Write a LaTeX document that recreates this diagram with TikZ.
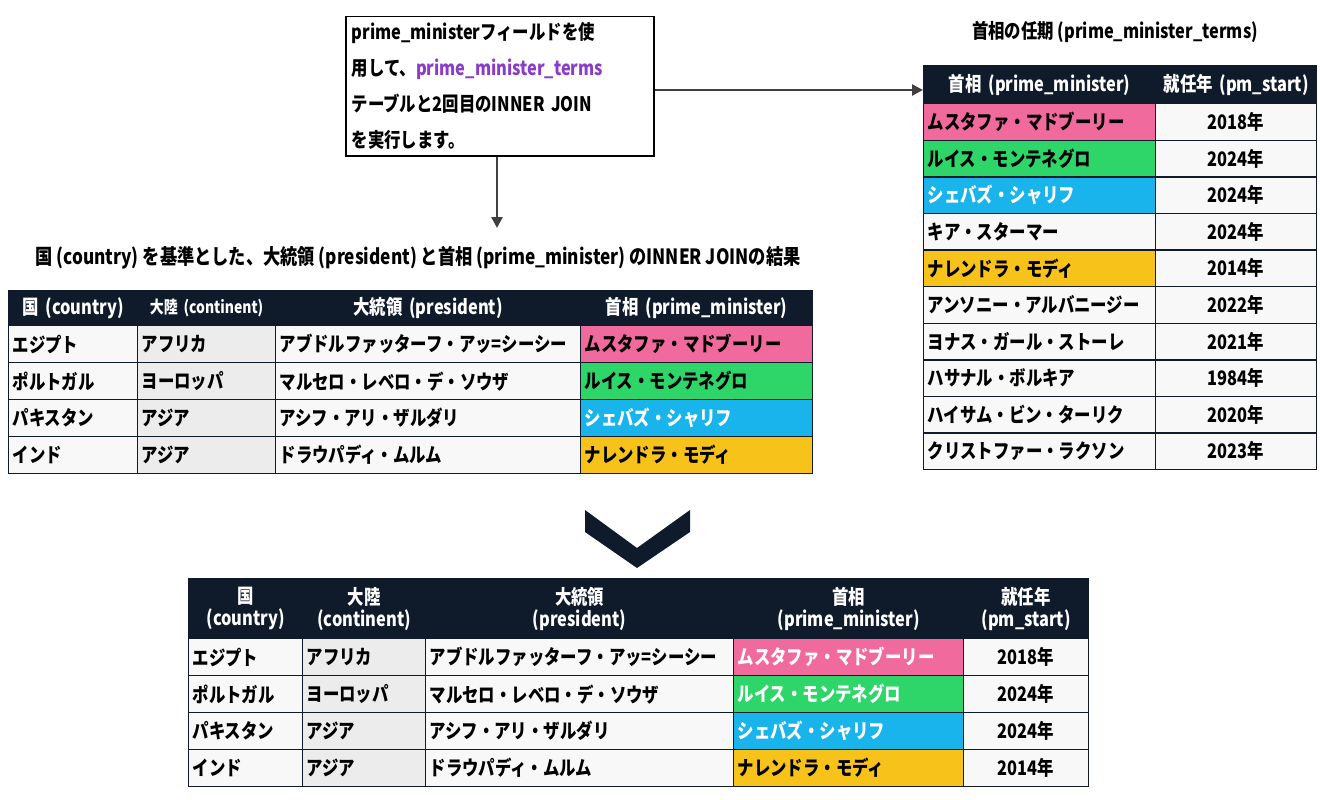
\documentclass[tikz,border=0pt]{standalone}
\usepackage{fontspec}
\setmainfont{Noto Sans CJK JP}[FakeStretch=0.82]
\usetikzlibrary{arrows.meta}
\definecolor{navy}{HTML}{0F1B2A}
\definecolor{pinkc}{HTML}{F06A9E}
\definecolor{greenc}{HTML}{2ED66A}
\definecolor{bluec}{HTML}{1AB4EC}
\definecolor{yellowc}{HTML}{F7C21A}
\definecolor{grayc}{HTML}{ECECEC}
\definecolor{whitec}{HTML}{F8F8F8}
\definecolor{purplec}{HTML}{8A3CC8}
\tikzset{
  cell/.style={draw=navy,line width=1.3pt,inner sep=4pt,fill=whitec,
    font=\fontsize{20}{22}\selectfont\bfseries,align=left},
  head/.style={fill=navy,text=white,align=center},
  mid/.style={align=center},
  gry/.style={fill=grayc},
  conn/.style={draw=black!75,line width=2.5pt,-{Triangle[length=11pt,width=11pt]}},
}
% cell: name, x, y, width, height, style, text
\newcommand\tcell[7]{%
  \pgfmathsetmacro\tw{#4-8}%
  \node[cell,#6,text width=\tw pt,minimum height=#5pt,anchor=north west] (#1) at (#2,#3) {#7};}
\begin{document}
\begin{tikzpicture}[x=1pt,y=-1pt]
\useasboundingbox (0,0) rectangle (1320,800);

% note box
\node[draw=black,line width=1.5pt,fill=white,anchor=north west,text width=296pt,
  inner sep=6pt,align=left,font=\fontsize{20}{36}\selectfont\bfseries]
  (note) at (345,16) {prime\_ministerフィールドを使\\用して、\textcolor{purplec}{prime\_minister\_terms}\\テーブルと2回目のINNER JOIN\\を実行します。};

% first result
\node[font=\fontsize{21}{22}\selectfont\bfseries] (title1) at (418,258)
  {国 (country) を基準とした、大統領 (president) と首相 (prime\_minister) のINNER JOINの結果};
\tcell{a0}{8}{290}{129}{35}{head}{国 (country)}
\tcell{b0}{137}{290}{138}{35}{head,font=\fontsize{17}{18}\selectfont\bfseries}{大陸 (continent)}
\tcell{c0}{275}{290}{305}{35}{head}{大統領 (president)}
\tcell{d0}{580}{290}{232}{35}{head}{首相 (prime\_minister)}
\foreach \n/\y/\ct/\pr/\pm/\col/\tc in {
  1/325/エジプト/アブドルファッターフ・アッ=シーシー/ムスタファ・マドブーリー/pinkc/black,
  2/362/ポルトガル/マルセロ・レベロ・デ・ソウザ/ルイス・モンテネグロ/greenc/black,
  3/399/パキスタン/アシフ・アリ・ザルダリ/シェバズ・シャリフ/bluec/white,
  4/436/インド/ドラウパディ・ムルム/ナレンドラ・モディ/yellowc/black}{
  \tcell{a\n}{8}{\y}{129}{37}{}{\ct}
  \tcell{b\n}{137}{\y}{138}{37}{gry}{\ifnum\n=1 アフリカ\else\ifnum\n=2 ヨーロッパ\else アジア\fi\fi}
  \tcell{c\n}{275}{\y}{305}{37}{}{\pr}
  \tcell{d\n}{580}{\y}{232}{37}{fill=\col,text=\tc}{\pm}
}

% prime_minister_terms
\node[font=\fontsize{20}{21}\selectfont\bfseries] (title2) at (1115,32)
  {首相の任期 (prime\_minister\_terms)};
\tcell{p0}{923}{65}{232}{38}{head}{首相 (prime\_minister)}
\tcell{s0}{1155}{65}{161}{38}{head}{就任年 (pm\_start)}
\foreach \n/\pm/\yr/\col/\tc in {
  1/ムスタファ・マドブーリー/2018/pinkc/black,
  2/ルイス・モンテネグロ/2024/greenc/black,
  3/シェバズ・シャリフ/2024/bluec/white,
  4/キア・スターマー/2024/whitec/black,
  5/ナレンドラ・モディ/2014/yellowc/black,
  6/アンソニー・アルバニージー/2022/whitec/black,
  7/ヨナス・ガール・ストーレ/2021/whitec/black,
  8/ハサナル・ボルキア/1984/whitec/black,
  9/ハイサム・ビン・ターリク/2020/whitec/black,
  10/クリストファー・ラクソン/2023/whitec/black}{
  \pgfmathsetmacro\yy{103+36.6*(\n-1)}
  \tcell{p\n}{923}{\yy}{232}{36.6}{fill=\col,text=\tc}{\pm}
  \tcell{s\n}{1155}{\yy}{161}{36.6}{mid}{\yr 年}
}

% connectors
\coordinate (nr) at (note.east |- 0,90);
\draw[conn] (nr) -- (p0.west |- nr);
\draw[conn] (note.south -| 497,0) -- (497,228);

% chevron
\fill[navy] (585,510) -- (637,548) -- (690,510) -- (690,532) -- (637,568) -- (585,532) -- cycle;

% joined result
\tcell{e0}{188}{578}{114}{60}{head}{国\\(country)}
\tcell{f0}{302}{578}{123}{60}{head}{大陸\\(continent)}
\tcell{g0}{425}{578}{308}{60}{head}{大統領\\(president)}
\tcell{h0}{733}{578}{230}{60}{head}{首相\\(prime\_minister)}
\tcell{i0}{963}{578}{125}{60}{head}{就任年\\(pm\_start)}
\foreach \n/\y/\ct/\pr/\pm/\col/\tc/\yr in {
  1/638/エジプト/アブドルファッターフ・アッ=シーシー/ムスタファ・マドブーリー/pinkc/white/2018,
  2/675/ポルトガル/マルセロ・レベロ・デ・ソウザ/ルイス・モンテネグロ/greenc/white/2024,
  3/712/パキスタン/アシフ・アリ・ザルダリ/シェバズ・シャリフ/bluec/white/2024,
  4/749/インド/ドラウパディ・ムルム/ナレンドラ・モディ/yellowc/black/2014}{
  \tcell{e\n}{188}{\y}{114}{37}{}{\ct}
  \tcell{f\n}{302}{\y}{123}{37}{gry}{\ifnum\n=1 アフリカ\else\ifnum\n=2 ヨーロッパ\else アジア\fi\fi}
  \tcell{g\n}{425}{\y}{308}{37}{}{\pr}
  \tcell{h\n}{733}{\y}{230}{37}{fill=\col,text=\tc}{\pm}
  \tcell{i\n}{963}{\y}{125}{37}{mid}{\yr 年}
}
\end{tikzpicture}
\end{document}
